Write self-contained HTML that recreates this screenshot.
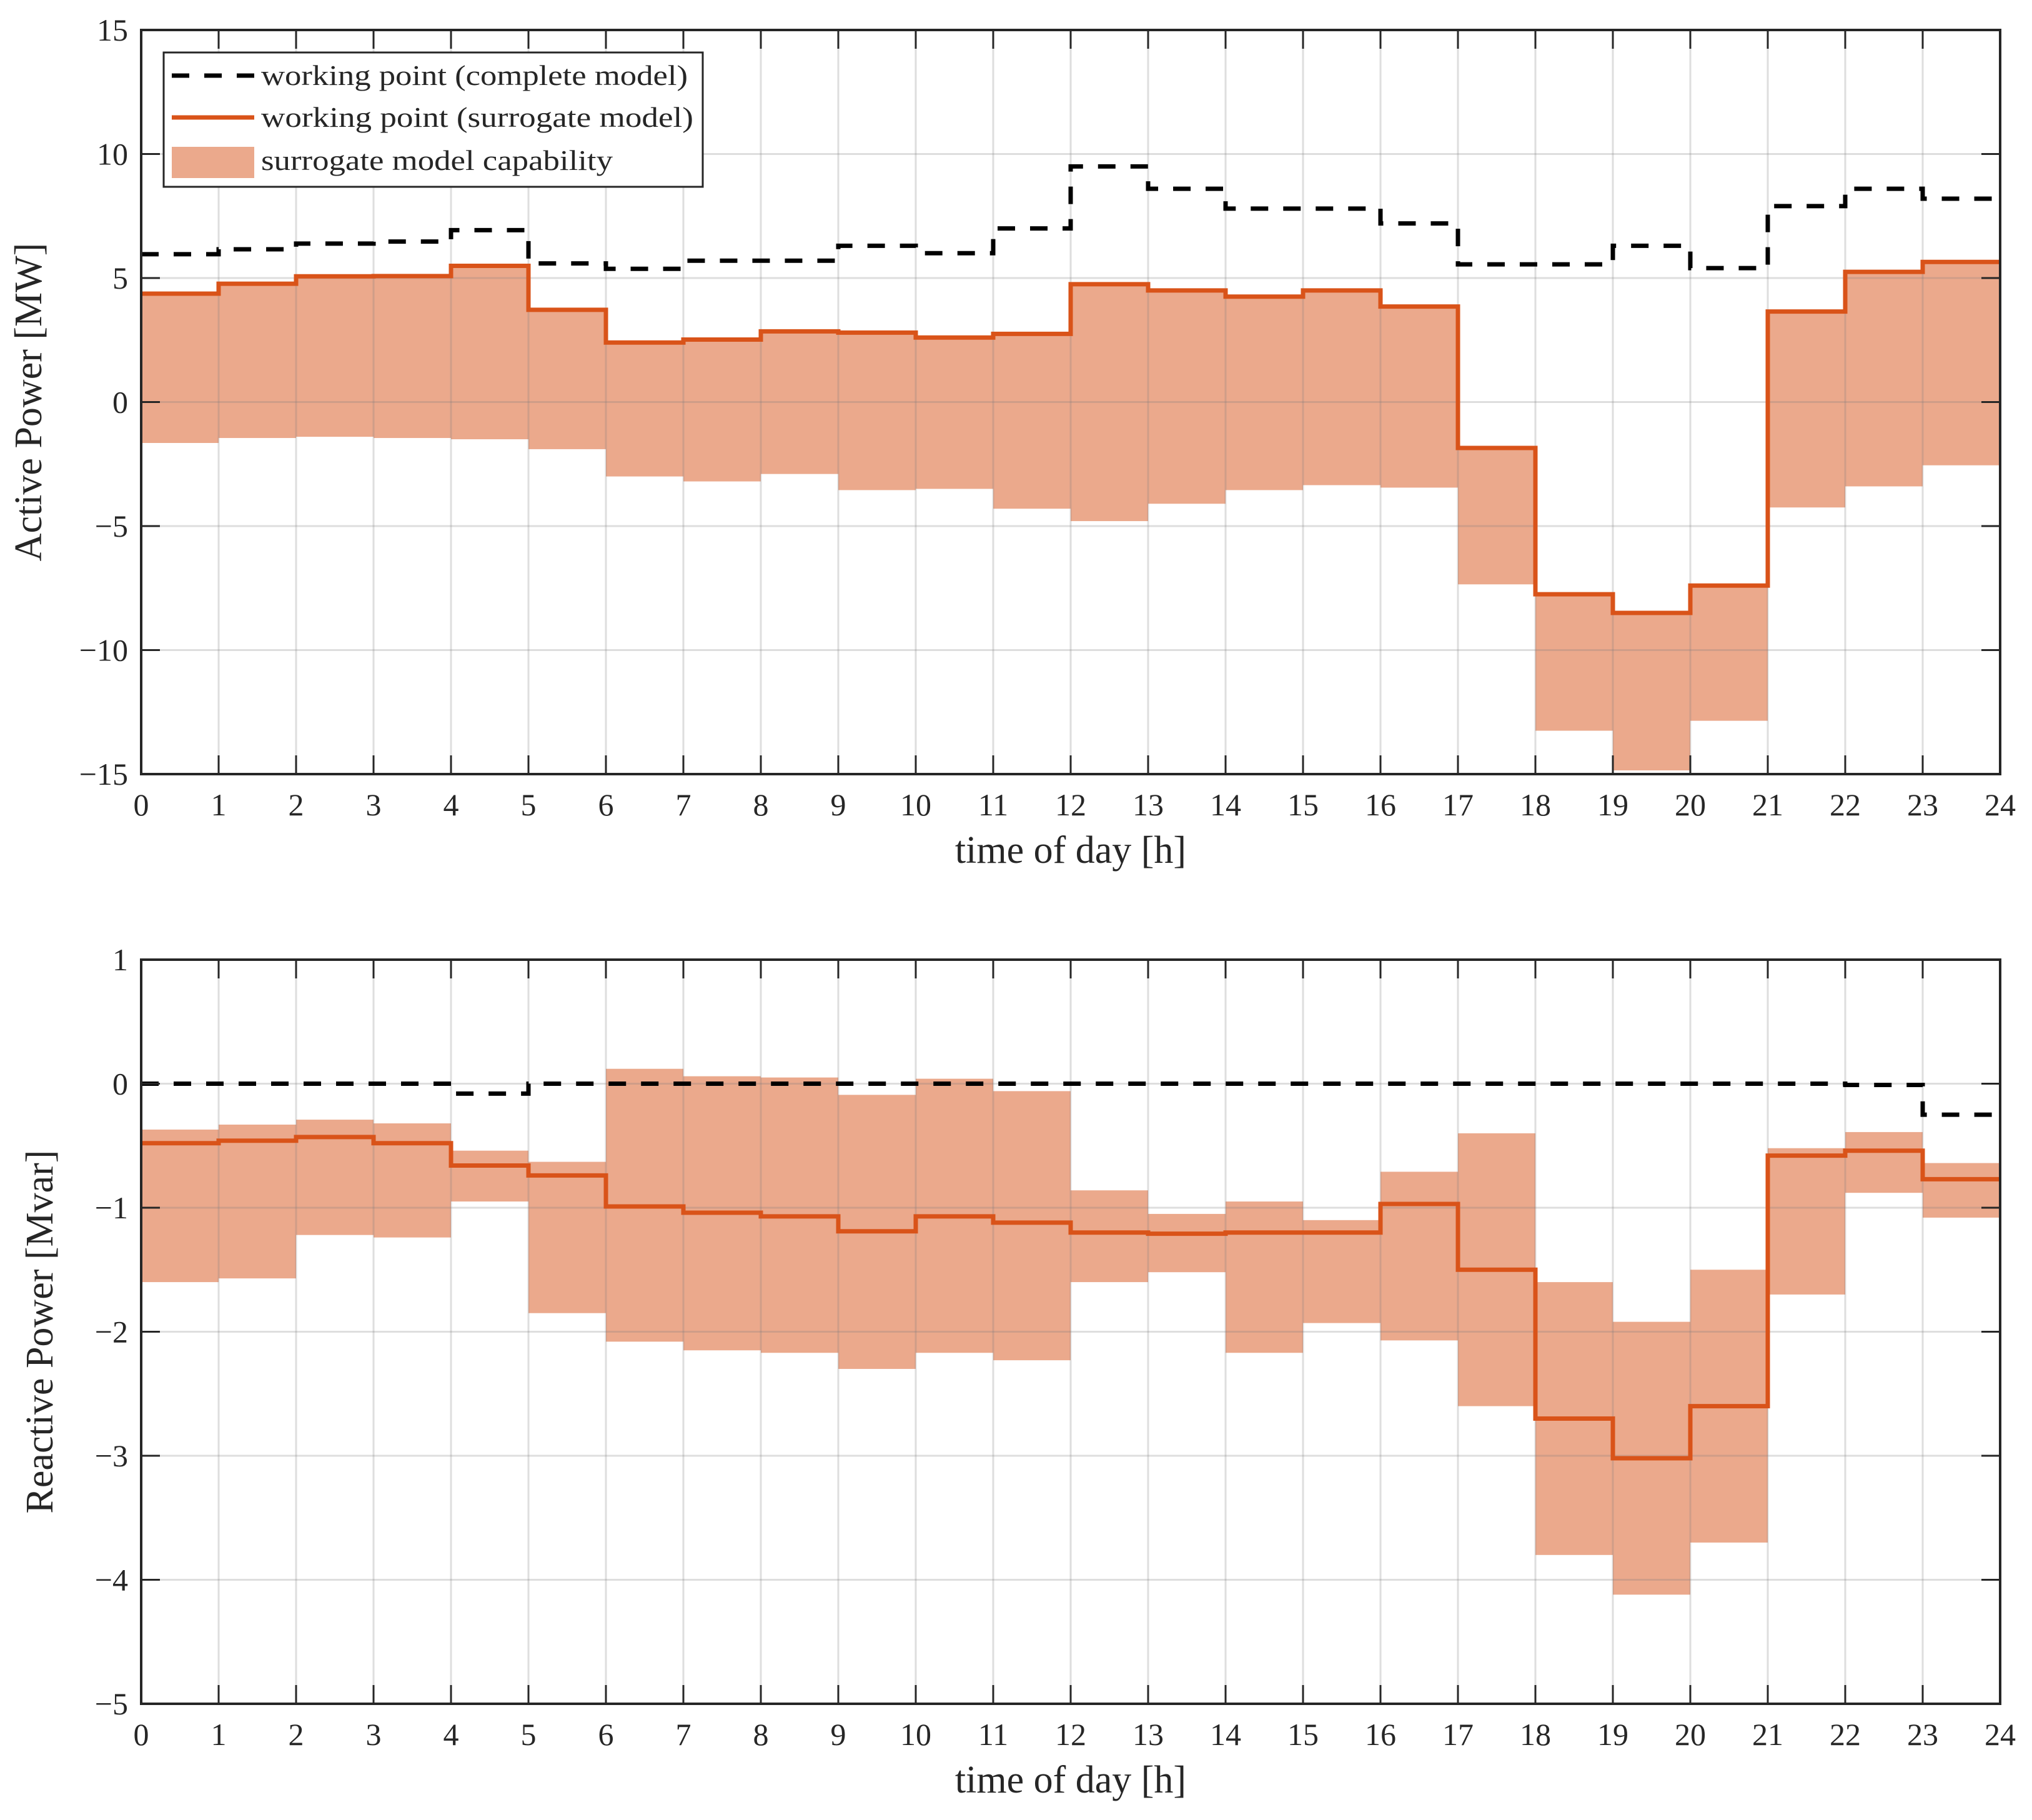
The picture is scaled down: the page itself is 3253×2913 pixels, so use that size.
<!DOCTYPE html>
<html><head><meta charset="utf-8"><style>
body{margin:0;background:#fff}
svg text{font-family:"Liberation Serif",serif;fill:#262626}
</style></head><body>
<svg id="c" width="3253" height="2908" viewBox="0 0 3253 2908" xmlns="http://www.w3.org/2000/svg"></svg>
<script>
const hours = [0,1,2,3,4,5,6,7,8,9,10,11,12,13,14,15,16,17,18,19,20,21,22,23];
const xTicks = [0,1,2,3,4,5,6,7,8,9,10,11,12,13,14,15,16,17,18,19,20,21,22,23,24];
const pComplete = [5.96,6.16,6.39,6.47,6.93,5.59,5.37,5.7,5.7,6.3,6.0,7.0,9.5,8.6,7.8,7.8,7.2,5.55,5.55,6.3,5.4,7.9,8.6,8.2];
const pSurrogate = [4.37,4.77,5.07,5.08,5.49,3.72,2.40,2.52,2.85,2.8,2.6,2.75,4.75,4.5,4.25,4.5,3.85,-1.85,-7.75,-8.5,-7.4,3.65,5.25,5.65];
const pUpper = [4.37,4.77,5.07,5.08,5.49,3.72,2.40,2.52,2.85,2.8,2.6,2.75,4.75,4.5,4.25,4.5,3.85,-1.85,-7.75,-8.5,-7.4,3.65,5.25,5.65];
const pLower = [-1.65,-1.45,-1.4,-1.45,-1.5,-1.9,-3.0,-3.2,-2.9,-3.55,-3.5,-4.3,-4.8,-4.1,-3.55,-3.35,-3.45,-7.35,-13.25,-14.85,-12.85,-4.25,-3.4,-2.55];
const pTicks = [15,10,5,0,-5,-10,-15];
const qComplete = [0,0,0,0,-0.08,0,0,0,0,0,0,0,0,0,0,0,0,0,0,0,0,0,-0.01,-0.25];
const qSurrogate = [-0.48,-0.46,-0.43,-0.48,-0.66,-0.74,-0.99,-1.04,-1.07,-1.19,-1.07,-1.12,-1.2,-1.21,-1.2,-1.2,-0.97,-1.5,-2.7,-3.02,-2.6,-0.58,-0.54,-0.77];
const qUpper = [-0.37,-0.33,-0.29,-0.32,-0.54,-0.63,0.12,0.06,0.05,-0.09,0.04,-0.06,-0.86,-1.05,-0.95,-1.1,-0.71,-0.4,-1.6,-1.92,-1.5,-0.52,-0.39,-0.64];
const qLower = [-1.6,-1.57,-1.22,-1.24,-0.95,-1.85,-2.08,-2.15,-2.17,-2.3,-2.17,-2.23,-1.6,-1.52,-2.17,-1.93,-2.07,-2.6,-3.8,-4.12,-3.7,-1.7,-0.88,-1.08];
const qTicks = [1,0,-1,-2,-3,-4,-5];

const NS="http://www.w3.org/2000/svg";
const svg=document.getElementById('c');
function mk(tag,attrs,parent){const e=document.createElementNS(NS,tag);for(const k in attrs)e.setAttribute(k,attrs[k]);(parent||svg).appendChild(e);return e;}
const X0=226,X1=3202;
function sx(h){return X0+(X1-X0)*h/24;}

function panel(name,top,bot,ymax,ymin,ticks,comp,surr,up,lo,ylabel,ylx,legend){
  const g=mk('g',{});
  
  
  const sy=v=>top+(ymax-v)/(ymax-ymin)*(bot-top);
  hours.forEach((h,i)=>{
    const y1=sy(up[i]),y2=sy(lo[i]);
    const r=mk('rect',{x:sx(h),y:Math.min(y1,y2),width:sx(h+1)-sx(h),height:Math.abs(y2-y1),fill:'#EBA98C'},g);
    
    
  });
  xTicks.forEach(t=>{if(t>0&&t<24){const l=mk('line',{x1:sx(t),x2:sx(t),y1:top,y2:bot,stroke:'#7a7a7a','stroke-opacity':0.25,'stroke-width':3},g);}});
  ticks.forEach(t=>{if(t<ymax&&t>ymin){const l=mk('line',{x1:X0,x2:X1,y1:sy(t),y2:sy(t),stroke:'#7a7a7a','stroke-opacity':0.25,'stroke-width':3},g);}});
  function stepPath(arr){let d='';hours.forEach((h,i)=>{d+=(i?'L':'M')+sx(h)+','+sy(arr[i])+'L'+sx(h+1)+','+sy(arr[i]);});return d;}
  const cp=mk('path',{d:stepPath(comp),fill:'none',stroke:'#000','stroke-width':7,'stroke-dasharray':'28,24'},g);
  
  
  const spth=mk('path',{d:stepPath(surr),fill:'none',stroke:'#D95319','stroke-width':7},g);
  
  
  xTicks.forEach(t=>{
    mk('line',{x1:sx(t),x2:sx(t),y1:bot,y2:bot-30,stroke:'#262626','stroke-width':3},g);
    mk('line',{x1:sx(t),x2:sx(t),y1:top,y2:top+30,stroke:'#262626','stroke-width':3},g);
    const tx=mk('text',{x:sx(t),y:bot+66,'font-size':50,'text-anchor':'middle'},g);
    tx.textContent=t;
    
    
  });
  ticks.forEach(t=>{
    mk('line',{x1:X0,x2:X0+30,y1:sy(t),y2:sy(t),stroke:'#262626','stroke-width':3},g);
    mk('line',{x1:X1,x2:X1-30,y1:sy(t),y2:sy(t),stroke:'#262626','stroke-width':3},g);
    const tx=mk('text',{x:205,y:sy(t)+17,'font-size':50,'text-anchor':'end'},g);
    tx.textContent=t<0?'\u2212'+(-t):t;
    
    
  });
  const fr=mk('rect',{x:X0,y:top,width:X1-X0,height:bot-top,fill:'none',stroke:'#262626','stroke-width':4},g);
  
  
  const xl=mk('text',{x:(X0+X1)/2,y:bot+142,'font-size':62,'text-anchor':'middle'},g);
  xl.textContent='time of day [h]';
  
  
  const cy=(top+bot)/2;
  const yl=mk('text',{x:ylx,y:cy,'font-size':62,'text-anchor':'middle',transform:'rotate(-90 '+ylx+' '+cy+')'},g);
  yl.textContent=ylabel;
  
  
  if(legend){
    const lg=mk('g',{},g);
    
    
    mk('rect',{x:262,y:84,width:863,height:215,fill:'#fff',stroke:'#262626','stroke-width':3},lg);
    mk('line',{x1:275,x2:407,y1:121,y2:121,stroke:'#000','stroke-width':7,'stroke-dasharray':'28,24'},lg);
    mk('line',{x1:275,x2:407,y1:188,y2:188,stroke:'#D95319','stroke-width':7},lg);
    mk('rect',{x:275,y:235,width:132,height:50,fill:'#EBA98C'},lg);
    const labs=['working point (complete model)','working point (surrogate model)','surrogate model capability'];
    const ys=[136,203,272],ws=[683,692,563];
    labs.forEach((s,i)=>{const t=mk('text',{x:418,y:ys[i],'font-size':46,textLength:ws[i],lengthAdjust:'spacingAndGlyphs'},lg);t.textContent=s;});
  }
}
panel('active-power-panel',48,1239,15,-15,pTicks,pComplete,pSurrogate,pUpper,pLower,'Active Power [MW]',66,true);
panel('reactive-power-panel',1536,2727,1,-5,qTicks,qComplete,qSurrogate,qUpper,qLower,'Reactive Power [Mvar]',84,false);
</script>
</body></html>
